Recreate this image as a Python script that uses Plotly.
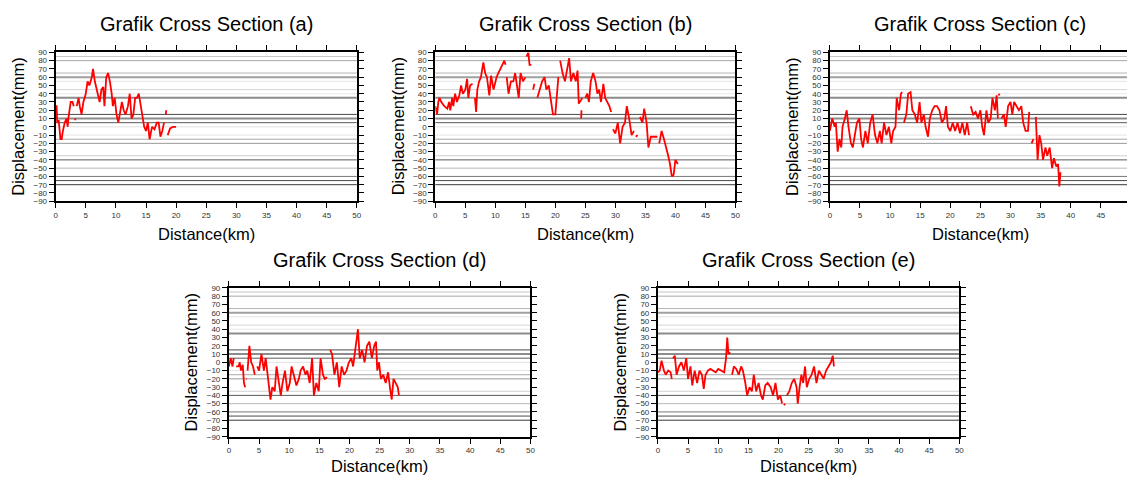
import plotly.graph_objects as go

G = (None, None)

# ---- data: (distance km, displacement mm), G = gap ----
sec_a = [(0.0,20),(0.15,26),(0.25,5),(0.5,8),(0.8,-15),(1.0,-15),(1.2,-5),(1.5,5),(1.8,10),(2.0,0),(2.1,10),(2.3,20),(2.5,30),(2.8,30),(3.0,25),G,(3.2,8),(3.3,10),G,(3.5,25),(3.8,35),(4.0,25),(4.3,15),(4.6,30),(5.0,40),(5.3,55),(5.6,50),(6.0,60),(6.2,70),(6.5,55),(6.8,45),(7.0,40),(7.3,30),(7.6,45),(7.9,48),(8.1,25),(8.4,60),(8.7,65),(9.0,55),(9.3,40),(9.5,25),(9.8,35),(10.1,15),(10.4,5),(10.7,20),(11.0,30),(11.3,20),(11.6,15),(12.0,25),(12.3,40),(12.6,10),(12.9,15),(13.2,35),(13.5,35),(13.8,40),(14.1,25),(14.4,15),(14.7,0),(15.0,-5),(15.3,5),(15.6,-15),(16.0,0),(16.4,-3),(16.8,5),(17.1,5),(17.4,-12),(17.7,-5),(18.0,5),G,(18.3,15),(18.35,20),G,(18.6,-10),(19.0,-2),(19.5,0),(20.0,0)]

sec_b = [(0.0,25),(0.3,15),(0.5,30),(0.7,35),(1.0,30),(1.5,25),(2.0,22),(2.3,30),(2.5,20),(2.8,35),(3.0,25),(3.3,40),(3.6,30),(4.0,38),(4.3,50),(4.6,40),(5.0,45),(5.3,58),(5.5,35),(5.8,50),(6.2,52),G,(6.6,35),(6.8,18),(7.0,45),(7.3,55),(7.6,60),(8.0,78),(8.3,65),(8.6,60),(9.0,38),(9.3,62),(9.7,45),(10.2,60),(10.5,65),(11.0,72),(11.5,80),(11.7,75),G,(11.9,60),(12.2,40),(12.6,55),(13.0,55),(13.3,65),(13.6,50),(13.9,35),(14.2,65),(14.6,55),(15.0,60),G,(15.2,85),(15.5,90),(15.7,75),(16.0,75),G,(16.3,45),(16.5,52),G,(17.0,35),(17.4,45),(17.8,55),(18.2,60),(18.5,45),(18.9,50),(19.3,30),(19.6,15),(20.0,15),(20.3,40),(20.5,60),G,(20.8,80),(21.2,65),(21.6,55),(22.0,70),(22.3,83),(22.6,55),(23.0,65),(23.4,55),(23.7,68),(23.9,28),(24.1,30),(24.5,35),G,(24.3,10),(24.35,20),G,(25.0,35),(25.3,40),(25.6,30),(25.9,55),(26.3,65),(26.7,55),(27.0,40),(27.3,45),(27.6,30),(28.0,52),(28.3,35),(28.7,30),(29.0,25),(29.3,18),G,(29.6,-3),(30.0,-8),(30.4,5),(30.8,-20),(31.2,0),(31.6,5),(31.9,25),(32.3,10),(32.7,-10),(33.1,-5),G,(33.4,-12),(33.7,-10),G,(34.1,12),(34.5,5),(34.8,22),(35.2,5),(35.5,-25),(35.9,-12),(36.5,-12),(37.0,-12),G,(37.3,-20),(37.7,-5),(38.1,-15),(38.5,-25),(38.8,-35),(39.1,-45),(39.4,-60),(39.7,-58),(40.0,-40),(40.4,-45)]

sec_c = [(0.0,-5),(0.4,10),(0.8,0),(1.0,5),(1.3,-30),(1.6,-15),(1.9,-25),(2.1,0),(2.5,10),(2.8,20),(3.1,0),(3.5,-20),(3.8,-25),(4.1,-10),(4.5,5),(4.9,10),(5.2,-15),(5.5,-25),(5.9,-5),(6.3,-20),(6.7,5),(7.1,15),(7.5,-10),(7.9,-20),(8.3,-5),(8.6,-20),(9.0,5),(9.4,-10),(9.8,0),(10.2,-20),(10.5,-5),(10.9,0),(11.1,35),(11.5,20),(11.8,40),(12.0,42),G,(12.3,5),(12.7,15),(13.0,40),(13.4,42),(13.7,20),(14.1,15),(14.5,5),(14.9,30),(15.2,5),(15.6,15),(15.9,0),(16.3,-12),(16.6,10),(17.0,20),(17.4,25),(17.8,25),(18.2,20),(18.6,5),(19.0,10),(19.3,25),(19.6,0),(20.0,-5),(20.4,5),(20.8,-5),(21.2,5),(21.6,-8),(22.0,5),(22.4,-10),(22.8,5),(23.1,-10),G,(23.4,25),(23.8,15),(24.2,18),(24.6,10),(25.0,20),(25.3,0),(25.6,-10),(26.0,20),(26.3,5),(26.7,10),(27.0,35),(27.4,20),(27.7,38),(27.9,10),G,(28.0,40),(28.2,38),G,(28.5,10),(28.9,15),(29.2,0),(29.6,25),(30.0,30),(30.3,15),(30.6,30),(31.0,25),(31.4,20),(31.8,25),(32.1,5),(32.5,-5),(32.9,-5),(33.1,18),G,(33.5,-20),(33.8,-15),G,(34.2,12),(34.3,-15),(34.5,-40),(34.8,-10),(35.1,-20),(35.4,-40),(35.8,-25),(36.1,-35),(36.5,-25),(36.9,-50),(37.2,-38),(37.6,-48),(37.9,-45),(38.1,-72),(38.3,-55)]

sec_d = [(0.0,-5),(0.3,5),(0.6,-5),(0.8,5),G,(1.2,-5),(1.6,-5),(1.8,0),(2.0,-10),(2.3,-3),(2.5,-25),(2.7,-30),G,(2.9,-20),(3.0,-20),G,(3.1,-10),(3.4,20),(3.7,0),(4.0,-5),(4.3,-15),G,(4.7,-5),(5.0,-10),(5.4,10),(5.8,-10),(6.1,5),(6.5,-20),(6.9,-45),(7.2,-30),(7.6,-35),(7.9,-5),(8.2,-20),(8.6,-40),(8.9,-25),(9.3,-10),(9.7,-35),(10.1,-25),(10.4,-5),(10.8,-15),(11.2,-28),(11.6,-20),(11.9,-10),(12.3,-5),(12.7,-15),(13.0,-10),(13.4,-25),(13.8,5),(14.1,-40),(14.5,-25),(14.9,-35),(15.2,5),(15.6,-15),(15.9,-20),(16.3,-18),G,(16.8,15),(17.1,10),(17.5,-15),(17.9,0),(18.3,-30),(18.7,-5),(19.1,-15),(19.5,-10),(19.9,0),(20.3,5),(20.6,-5),(21.0,20),(21.4,40),(21.7,5),(22.1,15),(22.5,0),(22.9,20),(23.3,25),(23.7,5),(24.1,20),(24.4,25),(24.6,-10),(24.9,0),(25.2,-20),(25.6,-15),(26.0,-25),(26.4,-12),(26.7,-30),(27.0,-45),(27.3,-20),(27.7,-25),(28.0,-30),(28.2,-40)]

sec_e = [(0.0,-12),(0.3,-10),(0.6,2),(1.0,-10),(1.3,-15),(1.7,-10),(2.1,-12),(2.3,-20),G,(2.5,5),(2.8,8),(3.1,-15),(3.5,-5),(3.9,0),(4.3,-10),(4.7,5),(5.0,-20),(5.4,-5),(5.7,-28),(6.1,-10),(6.5,-25),(6.9,-10),(7.3,-15),(7.6,-32),(7.9,-15),(8.3,-10),(8.7,-8),(9.1,-10),(9.6,-12),(10.0,-8),(10.5,-10),(11.0,-12),(11.3,5),(11.5,30),(11.7,10),(12.0,12),G,(12.3,-15),(12.6,-5),(13.0,-8),(13.4,-15),(13.8,-5),(14.1,-10),(14.5,-25),(14.8,-40),(15.2,-30),(15.6,-35),(15.9,-15),(16.3,-35),(16.7,-25),(17.1,-40),(17.4,-45),(17.8,-28),(18.2,-25),(18.7,-30),(19.1,-40),(19.5,-25),(19.9,-45),(20.3,-40),(20.6,-50),G,(20.9,-52),(21.1,-50),G,(21.4,-40),(21.8,-35),(22.2,-25),(22.6,-20),(23.0,-30),(23.2,-50),(23.5,-30),(23.8,-15),(24.1,-25),(24.4,-5),(24.7,-30),(25.1,-20),(25.5,-15),(25.9,-5),(26.3,-25),(26.7,-10),(27.1,-15),(27.5,-20),(27.9,-10),(28.3,-5),(28.7,0),(29.0,8),(29.2,-5)]

titles = ["Grafik Cross Section (a)", "Grafik Cross Section (b)", "Grafik Cross Section (c)",
          "Grafik Cross Section (d)", "Grafik Cross Section (e)"]
x_ticks = list(range(0, 51, 5))
y_ticks = list(range(-90, 91, 10))

# horizontal reference lines (level, shade, width)
grid_levels = [85, 80, 65, 60, 55, 45, 40, 35, 15, 10, 5, 0, -10, -15, -20, -35, -40, -50, -60, -65, -70]
grid_shades = ['#c8c8c8', '#a8a8a8', '#b4b4b4', '#a0a0a0', '#e4e4e4', '#d4d4d4', '#e8e8e8', '#8c8c8c',
               '#4a4a4a', '#8c8c8c', '#5a5a5a', '#e0e0e0', '#e4e4e4', '#a8a8a8', '#9a9a9a', '#d0d0d0',
               '#5a5a5a', '#b8b8b8', '#787878', '#4a4a4a', '#3a3a3a']
grid_widths = [1, 1, 1, 2, 1, 1, 1, 2, 1, 2, 1, 1, 1, 1, 1, 1, 1, 1, 1, 1, 1]

# ---- layout geometry (pixels in a 1132x481 canvas) ----
W, H = 1132, 481
panels = [  # left, right, top, bottom, x max
    (54, 357, 49.3, 201, 50),
    (436, 738, 49.3, 201, 50),
    (833, 1132, 49.3, 201, 49.34),
    (228.3, 531.7, 289.3, 441, 50),
    (660, 963.3, 289.3, 441, 50),
]
title_y = [20, 20, 20, 261, 261]
xtitle_y = [234, 234, 234, 471, 471]

FONT = "Liberation Sans, Arial, sans-serif"
fig = go.Figure()
layout = dict(width=W, height=H, margin=dict(l=0, r=0, t=0, b=0),
              paper_bgcolor='white', plot_bgcolor='white', showlegend=False,
              font=dict(family=FONT, color='black'))
annotations = []
shapes = []

for i, (sec, (l, r, t, b, xmax)) in enumerate(zip([sec_a, sec_b, sec_c, sec_d, sec_e], panels)):
    n = '' if i == 0 else str(i + 1)
    xs = [p[0] for p in sec]
    ys = [p[1] for p in sec]
    fig.add_trace(go.Scatter(x=xs, y=ys, mode='lines', line=dict(color='red', width=1.8),
                             connectgaps=False, xaxis='x' + n, yaxis='y' + n, hoverinfo='skip'))
    common = dict(ticks='outside', ticklen=5, tickwidth=1, tickcolor='black', showline=True,
                  linewidth=2, linecolor='black', showgrid=False, zeroline=False,
                  tickfont=dict(size=8, color='#333333', family=FONT))
    layout['xaxis' + n] = dict(domain=[l / W, r / W], range=[0, xmax], tickvals=x_ticks,
                               anchor='y' + n, mirror='ticks', **common)
    layout['yaxis' + n] = dict(domain=[1 - b / H, 1 - t / H], range=[-90, 90], tickvals=y_ticks,
                               anchor='x' + n, mirror=(False if i == 2 else 'ticks'), **common)
    for lev, shade, wdt in zip(grid_levels, grid_shades, grid_widths):
        shapes.append(dict(type='line', xref='x' + n + ' domain', yref='y' + n, x0=0, x1=1,
                           y0=lev, y1=lev, line=dict(color=shade, width=wdt), layer='below'))
    cx = (l + l + 303) / 2 / W
    annotations.append(dict(text=titles[i], x=cx, y=1 - title_y[i] / H,
                            xref='paper', yref='paper', showarrow=False, xanchor='center',
                            yanchor='middle', font=dict(size=20, family=FONT, color='black')))
    annotations.append(dict(text="Distance(km)", x=cx, y=1 - xtitle_y[i] / H,
                            xref='paper', yref='paper', showarrow=False, xanchor='center',
                            yanchor='middle', font=dict(size=16.5, family=FONT, color='black')))
    annotations.append(dict(text="Displacement(mm)", x=(l - 38) / W, y=1 - (t + b) / 2 / H,
                            xref='paper', yref='paper', showarrow=False, xanchor='center',
                            yanchor='middle', textangle=-90,
                            font=dict(size=16.5, family=FONT, color='black')))

layout['annotations'] = annotations
layout['shapes'] = shapes
fig.update_layout(**layout)
fig.write_html("out.html")
